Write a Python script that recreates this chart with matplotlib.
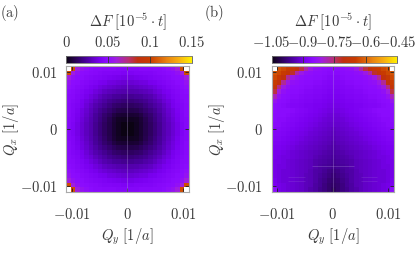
import numpy as np
import matplotlib

matplotlib.use('Agg')
import matplotlib.pyplot as plt
from matplotlib.colors import LinearSegmentedColormap

W, H = 415, 257
plt.rcParams['mathtext.fontset'] = 'cm'
plt.rcParams['font.family'] = ['DejaVu Serif']
plt.rcParams['axes.unicode_minus'] = False
TEXT = '#3a3a3a'

# panel (a): one quadrant, centre of the map at top left, read by eye
quadrant_a = [
    [.000, .001, .003, .006, .010, .014, .018, .022, .027, .031, .035, .039, .043, .046],
    [.001, .001, .003, .006, .010, .014, .018, .022, .027, .031, .035, .039, .043, .046],
    [.003, .003, .004, .007, .011, .015, .019, .023, .028, .032, .036, .040, .044, .046],
    [.006, .006, .007, .009, .013, .016, .020, .024, .029, .033, .037, .041, .044, .047],
    [.010, .010, .011, .013, .016, .019, .022, .026, .030, .034, .038, .042, .045, .047],
    [.014, .014, .015, .016, .019, .022, .025, .028, .032, .036, .040, .043, .045, .047],
    [.018, .018, .019, .020, .022, .025, .028, .031, .035, .038, .041, .044, .046, .048],
    [.022, .022, .023, .024, .026, .028, .031, .034, .037, .040, .043, .045, .047, .048],
    [.027, .027, .028, .029, .030, .032, .035, .037, .040, .042, .044, .046, .048, .049],
    [.031, .031, .032, .033, .034, .036, .038, .040, .042, .044, .046, .047, .049, .051],
    [.035, .035, .036, .037, .038, .040, .041, .043, .044, .046, .047, .049, .050, .054],
    [.039, .039, .040, .041, .042, .043, .044, .045, .046, .047, .049, .050, .053, .060],
    [.043, .043, .044, .044, .045, .045, .046, .047, .048, .049, .050, .053, .060, .105],
    [.046, .046, .046, .047, .047, .047, .048, .048, .049, .051, .054, .060, .105, .200],
]

# panel (b): right half, top row first, centre column first
half_b = [
    [-.855, -.855, -.850, -.845, -.840, -.820, -.780, -.730, -.690, -.665, -.650, -.635, -.620, -.300],
    [-.860, -.860, -.855, -.850, -.850, -.845, -.840, -.820, -.780, -.720, -.680, -.655, -.635, -.620],
    [-.865, -.865, -.860, -.855, -.855, -.850, -.850, -.845, -.835, -.820, -.770, -.700, -.660, -.635],
    [-.870, -.870, -.865, -.860, -.860, -.855, -.855, -.850, -.845, -.840, -.820, -.770, -.700, -.655],
    [-.875, -.875, -.870, -.865, -.865, -.860, -.860, -.855, -.850, -.850, -.840, -.820, -.760, -.680],
    [-.880, -.880, -.875, -.870, -.870, -.865, -.865, -.860, -.855, -.855, -.850, -.840, -.810, -.730],
    [-.885, -.885, -.880, -.875, -.875, -.870, -.870, -.865, -.860, -.860, -.855, -.850, -.835, -.790],
    [-.890, -.890, -.885, -.880, -.880, -.875, -.875, -.870, -.865, -.865, -.860, -.855, -.850, -.830],
    [-.895, -.895, -.890, -.885, -.885, -.880, -.880, -.875, -.870, -.870, -.865, -.860, -.855, -.850],
    [-.900, -.900, -.895, -.890, -.885, -.880, -.875, -.870, -.865, -.860, -.855, -.855, -.855, -.850],
    [-.905, -.905, -.900, -.895, -.890, -.885, -.880, -.875, -.870, -.865, -.860, -.855, -.855, -.855],
    [-.910, -.910, -.905, -.900, -.895, -.890, -.885, -.880, -.875, -.870, -.865, -.860, -.860, -.855],
    [-.915, -.915, -.910, -.905, -.900, -.895, -.890, -.885, -.880, -.875, -.870, -.865, -.860, -.860],
    [-.925, -.920, -.915, -.910, -.905, -.900, -.895, -.890, -.885, -.880, -.875, -.870, -.865, -.865],
    [-.930, -.925, -.920, -.915, -.910, -.905, -.900, -.895, -.890, -.885, -.880, -.875, -.870, -.870],
    [-.935, -.930, -.925, -.920, -.915, -.910, -.905, -.900, -.895, -.890, -.885, -.880, -.875, -.875],
    [-.940, -.935, -.930, -.925, -.920, -.915, -.910, -.905, -.900, -.895, -.890, -.885, -.880, -.880],
    [-.945, -.940, -.935, -.930, -.925, -.920, -.915, -.910, -.905, -.900, -.895, -.890, -.885, -.885],
    [-.950, -.945, -.940, -.935, -.930, -.925, -.920, -.915, -.910, -.905, -.900, -.895, -.890, -.890],
    [-.955, -.950, -.945, -.940, -.935, -.925, -.920, -.915, -.910, -.905, -.900, -.900, -.895, -.890],
    [-.960, -.955, -.950, -.945, -.940, -.930, -.925, -.920, -.915, -.910, -.905, -.900, -.895, -.895],
    [-.965, -.960, -.955, -.950, -.940, -.930, -.925, -.920, -.915, -.910, -.905, -.900, -.900, -.895],
    [-.975, -.970, -.960, -.950, -.945, -.935, -.925, -.920, -.915, -.910, -.905, -.905, -.900, -.895],
    [-.980, -.975, -.965, -.955, -.945, -.935, -.930, -.920, -.915, -.910, -.905, -.905, -.900, -.895],
    [-.985, -.980, -.970, -.960, -.945, -.935, -.930, -.920, -.915, -.910, -.905, -.905, -.900, -.890],
    [-.990, -.985, -.975, -.960, -.950, -.935, -.930, -.920, -.915, -.910, -.905, -.900, -.895, -.885],
    [-.995, -.985, -.975, -.965, -.950, -.940, -.930, -.920, -.915, -.910, -.905, -.900, -.895, -.850],
]

ticks_a = [0, 0.05, 0.1, 0.15]
ticks_b = [-1.05, -0.9, -0.75, -0.6, -0.45]
labels_a = ['$0$', '$0.05$', '$0.1$', '$0.15$']
labels_b = ['$-1.05$', '$-0.9$', '$-0.75$', '$-0.6$', '$-0.45$']
axis_ticks = [-0.01, 0, 0.01]
axis_labels = ['$-0.01$', '$0$', '$0.01$']
limit = 0.011

# faint seams that show in panel (b): Qx, Qy start, Qy end
seam_qx = [-0.0064, -0.0083, -0.0090]
seam_from = [-0.0038, -0.0080, -0.0080]
seam_to = [0.0038, -0.0050, -0.0050]

palette = LinearSegmentedColormap.from_list('palette', [
    (0.00, '#0a0410'), (0.15, '#460096'), (0.27, '#7a00f0'), (0.33, '#8c0cff'),
    (0.40, '#a01ee0'), (0.50, '#b83070'), (0.57, '#c03010'), (0.67, '#c83c00'),
    (0.80, '#e88010'), (0.90, '#f8b010'), (1.00, '#fff000'),
])
palette.set_over('white')


def box(x0, y0, x1, y1):
    return [x0 / W, 1 - y1 / H, (x1 - x0) / W, (y1 - y0) / H]


def full_map_a():
    right = np.array(quadrant_a)
    lower = np.hstack([right[:, :0:-1], right])
    return np.vstack([lower[:0:-1], lower])


def full_map_b():
    right = np.array(half_b)
    return np.hstack([right[:, :0:-1], right])


def draw_panel(fig, data, x0, ticks, labels, letter, letter_x):
    ax = fig.add_axes(box(x0, 66, x0 + 122.5, 192))
    im = ax.imshow(data, cmap=palette, vmin=ticks[0], vmax=ticks[-1], origin='upper',
                   extent=[-limit, limit, -limit, limit], aspect='auto', interpolation='nearest')
    ax.axvline(0, color='#b9a0e0', lw=0.5, alpha=0.45)
    ax.set_xticks(axis_ticks, axis_labels)
    ax.set_yticks(axis_ticks, axis_labels)
    ax.tick_params(direction='in', length=3, width=0.6, color='#222222', top=True, right=True,
                   labelsize=10.5, labelcolor=TEXT, pad=6)
    ax.tick_params(axis='x', pad=11)
    for spine in ax.spines.values():
        spine.set_color('#aaaaaa')
        spine.set_linewidth(0.8)

    cax = fig.add_axes(box(x0, 56, x0 + 125.5, 62.5))
    bar = fig.colorbar(im, cax=cax, orientation='horizontal', ticks=ticks, extend='neither')
    bar.ax.xaxis.set_ticks_position('top')
    bar.ax.set_xticklabels(labels)
    bar.ax.tick_params(direction='in', length=6.5 * 0.72, width=0.6, color='#333333',
                       labelsize=10.5, labelcolor=TEXT, pad=4)
    bar.outline.set_edgecolor('#777777')
    bar.outline.set_linewidth(0.6)

    mid = x0 + 61.5
    fig.text(mid / W, 1 - 22 / H, r'$\Delta F\ [10^{-5}\cdot t]$', ha='center', va='center',
             fontsize=10.5, color=TEXT)
    fig.text(mid / W, 1 - 237 / H, r'$Q_y\ [1/a]$', ha='center', va='center',
             fontsize=10.5, color=TEXT)
    fig.text((x0 - 55) / W, 1 - 129 / H, r'$Q_x\ [1/a]$', ha='center', va='center',
             rotation=90, fontsize=10.5, color=TEXT)
    fig.text(letter_x / W, 1 - 13 / H, letter, ha='center', va='center', fontsize=10.5, color=TEXT)
    return ax


fig = plt.figure(figsize=(W / 100, H / 100), dpi=100)
draw_panel(fig, full_map_a(), 66, ticks_a, labels_a, r'$\mathrm{(a)}$', 10)
ax_b = draw_panel(fig, full_map_b(), 271.5, ticks_b, labels_b, r'$\mathrm{(b)}$', 214)
ax_b.hlines(seam_qx, seam_from, seam_to, color='#b9a0e0', lw=0.5, alpha=0.2)
ax_b.hlines(seam_qx, -np.array(seam_to), -np.array(seam_from), color='#b9a0e0', lw=0.5, alpha=0.2)
fig.savefig('out.png', dpi=100)
plt.close(fig)
